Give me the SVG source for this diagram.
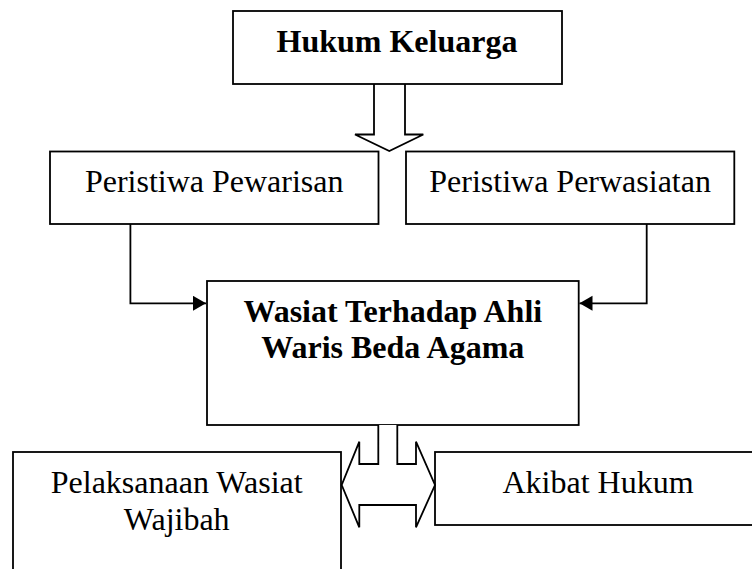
<svg xmlns="http://www.w3.org/2000/svg" width="752" height="569" viewBox="0 0 752 569">
<style>
.box{fill:#fff;stroke:#000;stroke-width:1.8}
.t{font-family:"Liberation Serif","Times New Roman",serif;font-size:32px;fill:#000;text-anchor:middle}
.b{font-weight:bold}
.ln{fill:none;stroke:#000;stroke-width:1.8}
.big{fill:#fff;stroke:#000;stroke-width:1.8;stroke-linejoin:miter}
</style>
<defs>
<marker id="ah" markerUnits="userSpaceOnUse" markerWidth="14" markerHeight="16" refX="13" refY="7.5" orient="auto">
<path d="M0,0 L13,7.5 L0,15 z" fill="#000"/>
</marker>
</defs>
<rect width="752" height="569" fill="#fff"/>
<g id="connectors">
<path class="big" d="M374,84 V134.5 H355 L389.3,151 L423.3,134.5 H405 V84"/>
<path class="ln" d="M130.4,224 V303.3 H206" marker-end="url(#ah)"/>
<path class="ln" d="M646.7,224 V303.3 H579.5" marker-end="url(#ah)"/>
</g>
<g id="hukum-keluarga">
<rect class="box" x="233" y="11" width="329" height="73"/>
<text class="t b" x="397" y="52">Hukum Keluarga</text>
</g>
<g id="peristiwa-pewarisan">
<rect class="box" x="50" y="151.5" width="328.5" height="72.5"/>
<text class="t" x="214.2" y="191.7">Peristiwa Pewarisan</text>
</g>
<g id="peristiwa-perwasiatan">
<rect class="box" x="406" y="151.5" width="328.3" height="72.5"/>
<text class="t" x="570.1" y="191.7">Peristiwa Perwasiatan</text>
</g>
<g id="wasiat">
<rect class="box" x="207" y="281" width="371.7" height="144"/>
<text class="t b" x="392.8" y="321.7">Wasiat Terhadap Ahli</text>
<text class="t b" x="392.8" y="358.3">Waris Beda Agama</text>
</g>
<g id="pelaksanaan">
<rect class="box" x="13" y="452" width="328" height="140"/>
<text class="t" x="176.7" y="493">Pelaksanaan Wasiat</text>
<text class="t" x="176.7" y="530">Wajibah</text>
</g>
<g id="akibat-hukum">
<rect class="box" x="435" y="452" width="326" height="73"/>
<text class="t" x="598" y="492.7">Akibat Hukum</text>
</g>
<g id="double-arrow">
<path class="big" d="M378.3,425 V464 H359.3 V441.7 L341.7,485 L359.3,527.3 V505 H416 V527.3 L435,485 L416,441.7 V464 H397.3 V425"/>
</g>
</svg>
